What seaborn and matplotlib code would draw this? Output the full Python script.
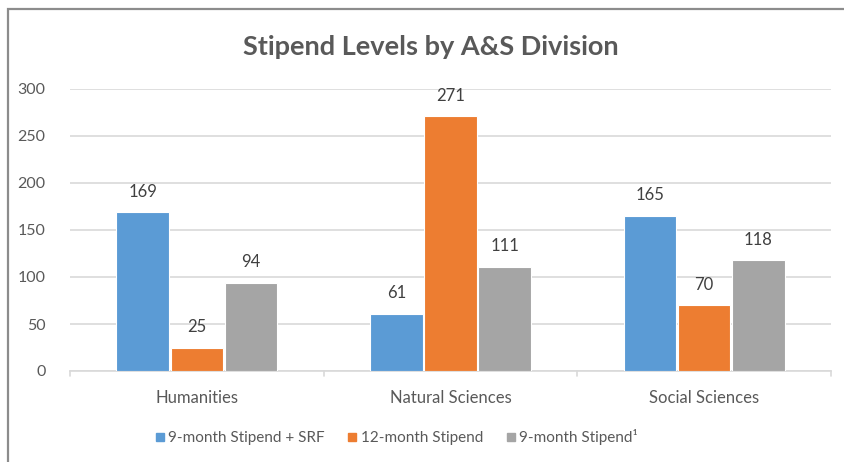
import pandas as pd
import matplotlib.pyplot as plt
import seaborn as sns
from matplotlib.lines import Line2D
from matplotlib.patches import Rectangle

# Chart data
divisions = ['Humanities', 'Natural Sciences', 'Social Sciences']
series = ['9-month Stipend + SRF', '12-month Stipend', '9-month Stipend\u00b9']
stipend_srf = [169, 61, 165]
stipend_12 = [25, 271, 70]
stipend_9 = [94, 111, 118]
colors = ['#5B9BD5', '#ED7D31', '#A5A5A5']

df = pd.DataFrame({
    'Division': divisions * 3,
    'Series': [s for s in series for _ in divisions],
    'Count': stipend_srf + stipend_12 + stipend_9,
})

sns.set_theme(style='white')
plt.rcParams['font.family'] = ['Lato', 'DejaVu Sans']
text_color = '#595959'

fig = plt.figure(figsize=(8.44, 4.62), dpi=100)
ax = fig.add_axes([70 / 844, 1 - 371 / 462, (831 - 70) / 844, (371 - 89) / 462])

sns.barplot(data=df, x='Division', y='Count', hue='Series', palette=colors,
            saturation=1, width=0.64, gap=0.03, edgecolor='white', linewidth=0.8,
            legend=False, ax=ax, zorder=3)

# value labels
for container in ax.containers:
    ax.bar_label(container, padding=9, fontsize=12, color='#404040')

ax.set_ylim(0, 300)
ax.set_xlim(-0.5, 2.5)
ax.set_yticks(range(0, 301, 50))
ax.yaxis.grid(True, color='#D9D9D9', linewidth=1.2, zorder=0)
ax.set_axisbelow(True)
for side in ['top', 'right', 'left']:
    ax.spines[side].set_visible(False)
ax.spines['bottom'].set_color('#D9D9D9')
ax.spines['bottom'].set_linewidth(1.2)
ax.set_xlabel('')
ax.set_ylabel('')
ax.tick_params(axis='y', length=0, labelsize=11.5, labelcolor=text_color, pad=17.5)
ax.tick_params(axis='x', length=0, labelsize=12, labelcolor=text_color, pad=14)

# boundary tick marks on the category axis
for xb in [-0.5, 0.5, 1.5, 2.5]:
    ax.plot([xb, xb], [0, -5], color='#D9D9D9', linewidth=1.2, clip_on=False)

fig.text(431 / 844, 1 - 47 / 462, 'Stipend Levels by A&S Division',
         ha='center', va='center', fontsize=19.5, fontweight='bold', color=text_color)

handles = [Line2D([0], [0], marker='s', linestyle='', markersize=5.5,
                  markerfacecolor=c, markeredgecolor=c) for c in colors]
fig.legend(handles, series, loc='center', bbox_to_anchor=(395 / 844, 1 - 437 / 462),
           ncol=3, frameon=False, fontsize=11, labelcolor=text_color,
           handletextpad=0.05, columnspacing=1.3, handlelength=1.0)

# chart area border (cropped at right and bottom)
fig.patches.append(Rectangle((8 / 844, -0.1), 1.2, 1 - 9 / 462 + 0.1,
                             transform=fig.transFigure, fill=False,
                             edgecolor='#8C8C8C', linewidth=1.6))

fig.savefig('out.png', dpi=100, facecolor='white')
